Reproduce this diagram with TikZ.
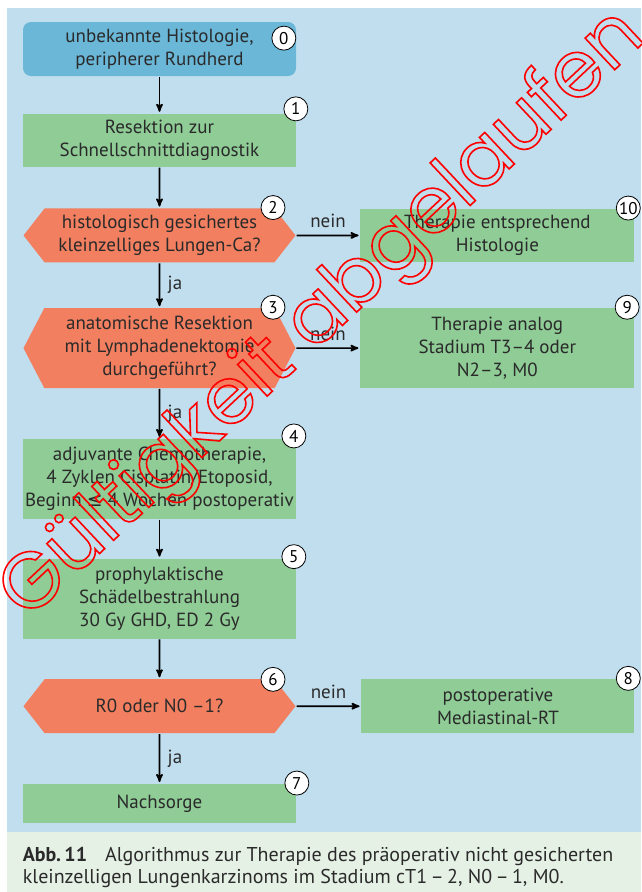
\documentclass[tikz,border=0pt]{standalone}
\usepackage{fontspec}
\setmainfont{PT Sans}
\newfontfamily\symfont{DejaVu Sans}
\newfontfamily\stampfont{Poppins}
\usetikzlibrary{arrows,positioning,shapes.symbols}
\definecolor{bgblue}{HTML}{C1DEEE}
\definecolor{capgreen}{HTML}{E6F1E6}
\definecolor{boxgreen}{HTML}{8FCC96}
\definecolor{startblue}{HTML}{6AB7D8}
\definecolor{queryred}{HTML}{F27F60}
\definecolor{txt}{HTML}{2A2A2A}
\newcommand{\fs}{\fontsize{19}{23}\selectfont}
\newcommand{\capfs}{\fontsize{20}{22}\selectfont}
\newcommand{\numfs}{\fontsize{17}{17}\selectfont}
\begin{document}
\begin{tikzpicture}[->,>=stealth', shorten >= 1pt, line width=1.7pt, node distance=40pt, x=1pt, y=1pt]
        \tikzset{
           box/.style={
                        rectangle,
                        fill=boxgreen,
                        text=txt,
                        minimum width=273pt,
                        inner sep=0pt,
                        align=center,
                        font=\fs
                       },
           start/.style={box, fill=startblue, rounded corners=8pt},
           query/.style={box, shape=signal, signal to=west and east, fill=queryred, minimum width=272pt},
           num/.style={circle, draw=black, fill=white, line width=0.8pt, inner sep=0pt, minimum size=24pt, text=black, font=\numfs},
           lbl/.style={text=txt, font=\fs},
                 };
        \useasboundingbox (0,0) rectangle (641,-892);
        \fill[-,bgblue] (7,-8) rectangle (641,-832);
        \fill[-,capgreen] (7,-832) rectangle (641,-892);
        %----------------
        \node[start, minimum height=54pt] (start) at (159.5,-49) {unbekannte Histologie,\\peripherer Rundherd};
        \node[box, minimum height=53pt] (resect) [below=36pt of start] {Resektion zur\\Schnellschnittdiagnostik};
        \node[query, minimum height=54pt, signal pointer angle=104] (histo) [below=40pt of resect] {histologisch gesichertes\\kleinzelliges Lungen-Ca?};
          \node[box, minimum height=53pt, minimum width=274pt] (other) [right=63pt of histo] {Therapie entsprechend\\Histologie};
        \node[query, minimum height=80pt, signal pointer angle=125] (anat) [below=44pt of histo] {anatomische Resektion\\mit Lymphadenektomie\\durchgeführt?};
          \node[box, minimum height=80pt, minimum width=274pt] (stage) [right=63pt of anat] {Therapie analog\\Stadium T3–4 oder\\N2–3, M0};
        \node[box, minimum height=80pt] (chemo) [below=49pt of anat] {adjuvante Chemotherapie,\\4 Zyklen Cisplatin/Etoposid,\\Beginn {\symfont ≤} 4 Wochen postoperativ};
        \node[box, minimum height=80pt] (pci) [below=38pt of chemo] {prophylaktische\\Schädelbestrahlung\\30 Gy GHD, ED 2 Gy};
        \node[query, minimum height=54pt, signal pointer angle=104] (rnull) [below=39pt of pci] {R0 oder N0 –1?};
          \node[box, minimum height=54pt] (mediast) [right=64pt of rnull] {postoperative\\Mediastinal-RT};
        \node[box, minimum height=39pt] (follow) [below=49pt of rnull] {Nachsorge};
        %----------------
        \foreach \nd/\nm/\dx/\dy/\anc in {start/0/-13/-17/north east, resect/1/-1/4/north east,
                 histo/2/113.5/0/north, anat/3/113.5/0/north, chemo/4/-3/2/north east,
                 pci/5/-3/1/north east, rnull/6/113.5/-1/north, follow/7/0/0/north east,
                 mediast/8/-7/0/north east, stage/9/-8/0/north east, other/10/-7/0/north east}
          \node[num] (c\nm) at ([xshift=\dx pt, yshift=\dy pt]\nd.\anc) {\nm};
        %----------------
        \path (start) edge (resect)
              (resect) edge (histo)
              (histo) edge node[lbl, right, xshift=4pt] {ja} (anat)
              (histo) edge node[lbl, above, yshift=3pt] {nein} (other)
              (anat) edge node[lbl, right, xshift=4pt] {ja} (chemo)
              (anat) edge node[lbl, above, yshift=3pt] {nein} (stage)
              (chemo) edge (pci)
              (pci) edge (rnull)
              (rnull) edge node[lbl, right, xshift=4pt] {ja} (follow)
              (rnull) edge node[lbl, above, yshift=3pt] {nein} (mediast)
        ;
        %----------------
        \node[text=txt, font=\capfs, anchor=west, align=left, inner sep=0pt] (caption) at (22,-867) {\textbf{Abb.\,11}\hspace{18pt}Algorithmus zur Therapie des präoperativ nicht gesicherten\\kleinzelligen Lungenkarzinoms im Stadium cT1\,–\,2, N0\,–\,1, M0.};
        % stamp
        \node[text=red, rotate=43.2, font=\stampfont\fontsize{79}{79}\selectfont] (stamp) at (324,-316) {\special{pdf:literal direct 1.6 w 1 Tr}Gültigkeit abgelaufen\special{pdf:literal direct 0 Tr}};
    \end{tikzpicture}
\end{document}
